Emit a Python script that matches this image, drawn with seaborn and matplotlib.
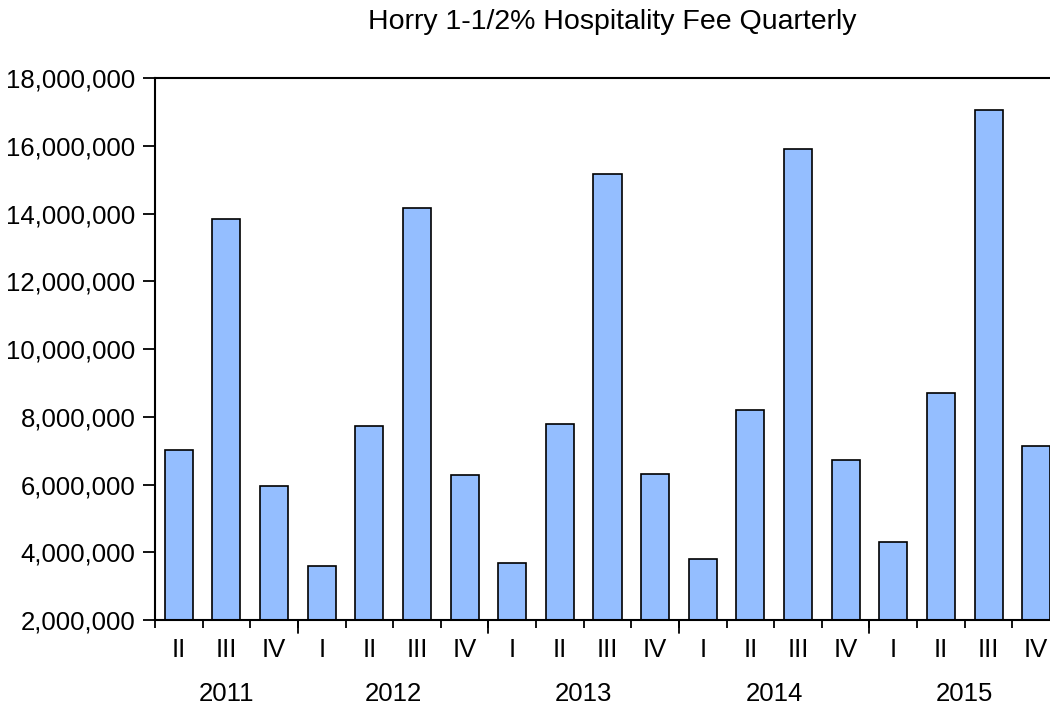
import pandas as pd
import seaborn as sns
import matplotlib.pyplot as plt
import matplotlib.transforms as mtransforms
from matplotlib.ticker import FuncFormatter

# quarterly hospitality fee, 2011 Q2 .. 2015 Q4
quarters = ['II', 'III', 'IV',
            'I', 'II', 'III', 'IV',
            'I', 'II', 'III', 'IV',
            'I', 'II', 'III', 'IV',
            'I', 'II', 'III', 'IV']
fee = [7010000, 13840000, 5950000,
       3600000, 7720000, 14160000, 6270000,
       3680000, 7780000, 15170000, 6320000,
       3810000, 8210000, 15900000, 6730000,
       4310000, 8690000, 17060000, 7130000]
years = ['2011', '2012', '2013', '2014', '2015']
quarters_per_year = [3, 4, 4, 4, 4]

df = pd.DataFrame({'pos': range(len(fee)), 'fee': fee})

sns.set_style('white')
plt.rcParams['font.family'] = ['Liberation Sans', 'DejaVu Sans']
plt.rcParams['text.color'] = 'black'
plt.rcParams['xtick.color'] = 'black'
plt.rcParams['ytick.color'] = 'black'

fig = plt.figure(figsize=(10.5, 7.08), dpi=100)
ax = fig.add_axes([155 / 1050, 1 - 620 / 708, 905 / 1050, 542 / 708])

sns.barplot(data=df, x='pos', y='fee', color='#94BEFF', saturation=1,
            width=0.59, edgecolor='black', linewidth=1.2, ax=ax)

ax.set_xlim(-0.5, len(fee) - 0.5)
ax.set_ylim(2000000, 18000000)
ax.set_yticks(range(2000000, 18000001, 2000000))
ax.yaxis.set_major_formatter(FuncFormatter(lambda v, p: f'{int(v):,}'))

ax.set_xticks(range(len(fee)))
ax.set_xticklabels(quarters)
ax.set_xticks([i - 0.5 for i in range(len(fee))], minor=True)
ax.tick_params(axis='x', which='major', length=0, pad=13, labelsize=18.5,
               labelcolor='black')
ax.tick_params(axis='x', which='minor', length=6, width=1.3, direction='out',
               color='black', bottom=True)
ax.tick_params(axis='y', length=9, width=1.3, direction='out', color='black',
               left=True, pad=5, labelsize=18.5, labelcolor='black')
ax.set_xlabel('')
ax.set_ylabel('')

for side in ['left', 'top', 'bottom', 'right']:
    ax.spines[side].set_color('black')
    ax.spines[side].set_linewidth(1.5)

# longer ticks at year boundaries and year labels below
trans = mtransforms.blended_transform_factory(ax.transData, ax.transAxes)
start = 0
for yr, n in zip(years, quarters_per_year):
    center = start + (n - 1) / 2
    ax.text(center, -0.137, yr, transform=trans, ha='center', va='center',
            fontsize=18.5, color='black')
    if start > 0:
        ax.plot([start - 0.5, start - 0.5], [0, -0.024], transform=trans,
                color='black', lw=1.3, clip_on=False)
    start += n

fig.text(612 / 1050, 1 - 22 / 708, 'Horry 1-1/2% Hospitality Fee Quarterly',
         ha='center', va='center', fontsize=20.5, color='black')

plt.savefig('out.png', dpi=100)
